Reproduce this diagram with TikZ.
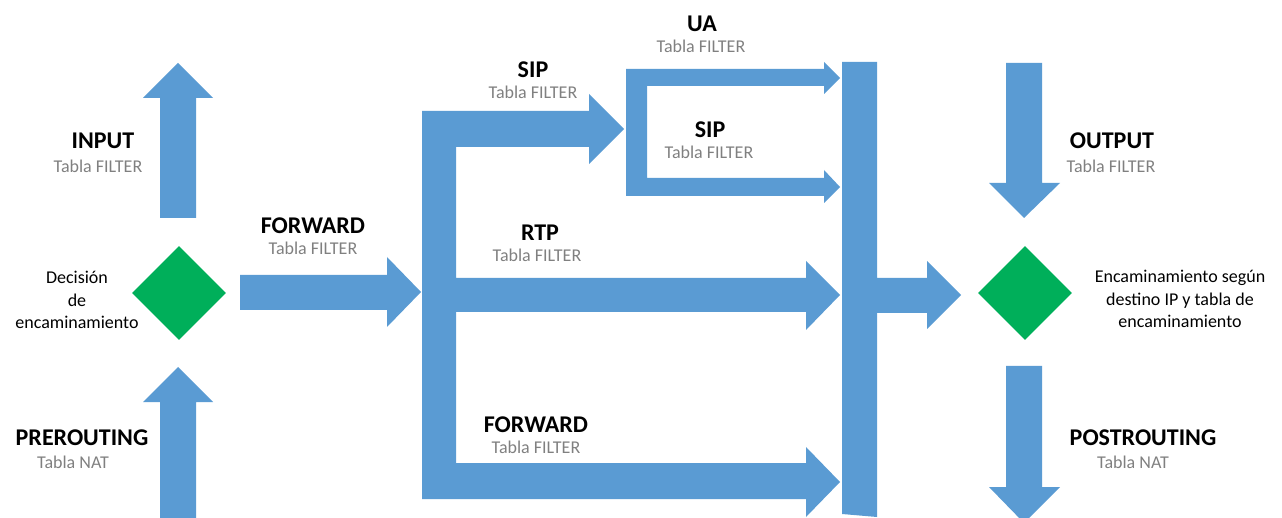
\documentclass[tikz,border=0pt]{standalone}
\usepackage{fontspec}
\setmainfont{Carlito}
\usetikzlibrary{shapes.geometric}
\definecolor{flowblue}{HTML}{5A9BD3}
\definecolor{decgreen}{HTML}{00AF5A}
\definecolor{tablegray}{HTML}{808080}
\tikzset{
  flow/.style={fill=flowblue, draw=none},
  decision/.style={diamond, fill=decgreen, draw=none, inner sep=0pt,
    minimum width=94pt, minimum height=94pt},
  hook/.style={font=\fontsize{24}{28}\selectfont\bfseries, anchor=base, inner sep=0pt},
  tbl/.style={font=\fontsize{18}{22}\selectfont, text=tablegray, anchor=base, inner sep=0pt},
  note/.style={font=\fontsize{18}{22.5}\selectfont, align=center, inner sep=0pt}
}
\begin{document}
\begin{tikzpicture}[x=1pt,y=-1pt]
\useasboundingbox (0,0) rectangle (1282,518);
\begin{scope}
\clip (0,0) rectangle (1282,518);

% decision points
\node[decision] (route1) at (179,293) {};
\node[decision] (route2) at (1025,293) {};

% INPUT (up)
\fill[flow] (160,218) -- (196,218) -- (196,98) -- (213,98) -- (178,63)
  -- (143,98) -- (160,98) -- cycle;
% PREROUTING (up)
\fill[flow] (160,525) -- (196,525) -- (196,402) -- (213,402) -- (178,367)
  -- (143,402) -- (160,402) -- cycle;
% FORWARD into the chain
\fill[flow] (240,275) -- (387,275) -- (387,257) -- (421,292) -- (387,327)
  -- (387,310) -- (240,310) -- cycle;

% branch comb: SIP, RTP, FORWARD
\fill[flow] (422,111) -- (589,111) -- (589,94) -- (624,129) -- (589,164)
  -- (589,147) -- (456,147) -- (456,278) -- (806,278) -- (806,261)
  -- (840,295) -- (806,330) -- (806,312) -- (456,312) -- (456,463)
  -- (806,463) -- (806,447) -- (840,482) -- (806,517) -- (806,499)
  -- (422,499) -- cycle;

% SIP split: UA and SIP
\fill[flow] (626,69) -- (824,69) -- (824,62) -- (840,78) -- (824,94)
  -- (824,86) -- (647,86) -- (647,178) -- (824,178) -- (824,170)
  -- (840,187) -- (824,203) -- (824,196) -- (626,196) -- cycle;

% collector bar and exit towards routing
\fill[flow] (842,62) -- (877,62) -- (877,278) -- (927,278) -- (927,261)
  -- (961,295) -- (927,329) -- (927,313) -- (877,313) -- (877,517)
  -- (842,514) -- cycle;

% OUTPUT (down)
\fill[flow] (1006,63) -- (1042,63) -- (1042,183) -- (1060,183) -- (1024,218)
  -- (989,183) -- (1006,183) -- cycle;
% POSTROUTING (down)
\fill[flow] (1006,366) -- (1042,366) -- (1042,487) -- (1060,487) -- (1024,523)
  -- (989,487) -- (1006,487) -- cycle;
\end{scope}

% labels
\node[hook] (inputL) at (103,149) {INPUT};
\node[tbl]  (inputT) at (98,173) {Tabla FILTER};
\node[hook] (fwdL) at (313,234) {FORWARD};
\node[tbl]  (fwdT) at (313,255) {Tabla FILTER};
\node[hook] (preL) at (82,445) {PREROUTING};
\node[tbl]  (preT) at (73,468) {Tabla NAT};
\node[note] (decL) at (77,300) {Decisión\\de\\encaminamiento};

\node[hook] (sipL) at (533,78) {SIP};
\node[tbl]  (sipT) at (533,99) {Tabla FILTER};
\node[hook] (uaL) at (702,32) {UA};
\node[tbl]  (uaT) at (701,53) {Tabla FILTER};
\node[hook] (sip2L) at (710,138) {SIP};
\node[tbl]  (sip2T) at (709,159) {Tabla FILTER};
\node[hook] (rtpL) at (540,241) {RTP};
\node[tbl]  (rtpT) at (537,262) {Tabla FILTER};
\node[hook] (fwd2L) at (536,432) {FORWARD};
\node[tbl]  (fwd2T) at (536,453) {Tabla FILTER};

\node[hook] (outL) at (1112,149) {OUTPUT};
\node[tbl]  (outT) at (1111,173) {Tabla FILTER};
\node[hook] (postL) at (1143,445) {POSTROUTING};
\node[tbl]  (postT) at (1133,468) {Tabla NAT};
\node[note] (encL) at (1180,299) {Encaminamiento según\\destino IP y tabla de\\encaminamiento};
\end{tikzpicture}
\end{document}
